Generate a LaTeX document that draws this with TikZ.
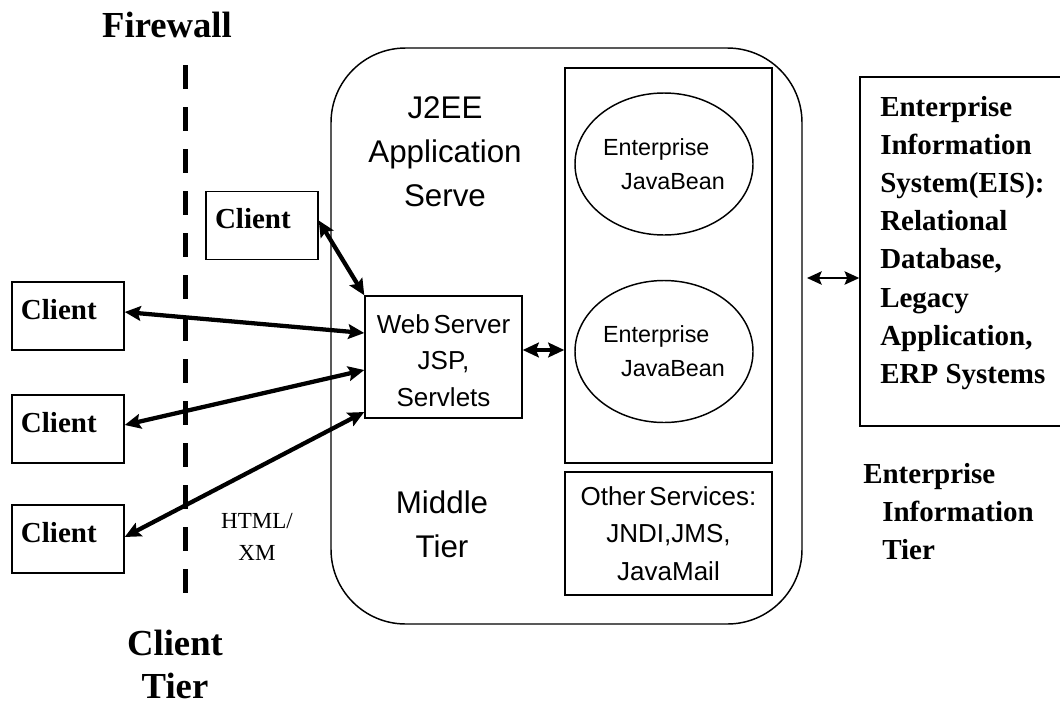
\documentclass[tikz,border=0pt]{standalone}
\usepackage{fontspec}
\setmainfont{Liberation Serif}
\setsansfont{Liberation Sans}
\usetikzlibrary{arrows.meta,shapes.geometric,calc}
\begin{document}
\begin{tikzpicture}[x=0.75pt,y=-0.75pt,
  box/.style={draw, line width=1.1pt, inner sep=0pt},
  clientbox/.style={box, minimum width=84pt, minimum height=51pt,
     inner xsep=6.75pt, text width=70.5pt, align=left,
     text height=14.25pt, text depth=9.75pt,
     font=\fontsize{21.75pt}{24pt}\selectfont\bfseries},
  bean/.style={draw, line width=1.1pt, ellipse, inner sep=0pt,
     minimum width=133.5pt, minimum height=106.5pt, align=left,
     font=\fontsize{17.5pt}{25.5pt}\selectfont\sffamily},
  bigtxt/.style={inner sep=0pt, align=center,
     font=\fontsize{23.5pt}{33pt}\selectfont\sffamily},
  tiertxt/.style={inner sep=0pt, font=\fontsize{27.5pt}{34.5pt}\selectfont\bfseries},
  eistxt/.style={inner sep=0pt, align=left,
     font=\fontsize{21.75pt}{28.6pt}\selectfont\bfseries},
  thick arrow/.style={line width=3.2pt,
     {Stealth[length=12pt,width=11pt,inset=2pt]}-{Stealth[length=12pt,width=11pt,inset=2pt]}},
  thin arrow/.style={line width=1.5pt,
     {Stealth[length=11pt,width=10pt,inset=2pt]}-{Stealth[length=11pt,width=10pt,inset=2pt]}},
  firewall/.style={line width=3.75pt, dash pattern=on 18pt off 13.5pt}
]
\useasboundingbox (0,0) rectangle (1060,707);

% firewall
\coordinate (fwtop) at (185,65);
\coordinate (fwbot) at (185,593);
\draw[firewall] (fwtop) -- (fwbot);
\node[tiertxt, anchor=base] (fwlabel) at (167,37) {Firewall};
\node[tiertxt, anchor=north, align=center,
  font=\fontsize{27.5pt}{32pt}\selectfont\bfseries] (ctier) at (175,630) {Client\\Tier};

% main server
\node[box, rounded corners=56pt, minimum width=353.25pt, minimum height=432pt] (server) at (566.5,336) {};
\node[bigtxt, anchor=north] (j2ee) at (445,96) {J2EE\\Application\\Serve};
\node[bigtxt, anchor=north] (middle) at (442,491) {Middle\\Tier};

% web server
\node[box, minimum width=117.75pt, minimum height=91.5pt, align=center,
  font=\fontsize{19.5pt}{27.4pt}\selectfont\sffamily] (web) at (443.5,357) {\rule{0pt}{19pt}Web\hspace{0.15em}Server\\JSP,\\Servlets};

% EJB container
\node[box, minimum width=155.25pt, minimum height=296.25pt] (ejb) at (668.5,265.5) {};
\node[bean] (bean1) at (664,164) {Enterprise\\\hspace*{13.5pt}JavaBean};
\node[bean] (bean2) at (664,351.5) {Enterprise\\\hspace*{13.5pt}JavaBean};

% other services
\node[box, minimum width=155.25pt, minimum height=92.25pt, align=center,
  font=\fontsize{19.5pt}{28pt}\selectfont\sffamily] (other) at (668.5,533.5) {Other\hspace{0.15em}Services:\\JNDI,JMS,\\JavaMail};

% EIS
\node[box, minimum width=153pt, minimum height=261.75pt] (eis) at (962,251.5) {};
\node[eistxt, anchor=north west] (eistext) at (880,96) {Enterprise\\Information\\System(EIS):\\Relational\\Database,\\Legacy\\Application,\\ERP Systems};
\node[eistxt, anchor=north west] (eitier) at (863,463) {Enterprise\\\hspace*{14.25pt}Information\\\hspace*{14.25pt}Tier};

% HTML/XM
\node[inner sep=0pt, align=center, anchor=north,
  font=\fontsize{17.25pt}{24pt}\selectfont] (html) at (257,513) {HTML/\\XM};

% clients
\node[clientbox] (ctop) at (262,225.5) {Client};
\node[clientbox] (c1) at (68,316) {Client};
\node[clientbox] (c2) at (68,429) {Client};
\node[clientbox] (c3) at (68,539) {Client};

% connectors
\draw[thick arrow] ($(ctop.east)+(0,-5)$) -- (web.north west);
\draw[thick arrow] ($(c1.east)+(0,-4)$) -- ($(web.west)+(0,-24)$);
\draw[thick arrow] ($(c2.east)+(0,-4)$) -- ($(web.west)+(0,13)$);
\draw[thick arrow] ($(c3.east)+(0,-2)$) -- ($(web.west)+(0,55)$);
\coordinate (wa) at ($(web.east)+(0,-7)$);
\draw[thick arrow] (wa) -- (wa -| ejb.west);
\coordinate (ea) at (807,278);
\draw[thin arrow] (ea) -- (ea -| eis.west);
\end{tikzpicture}
\end{document}
